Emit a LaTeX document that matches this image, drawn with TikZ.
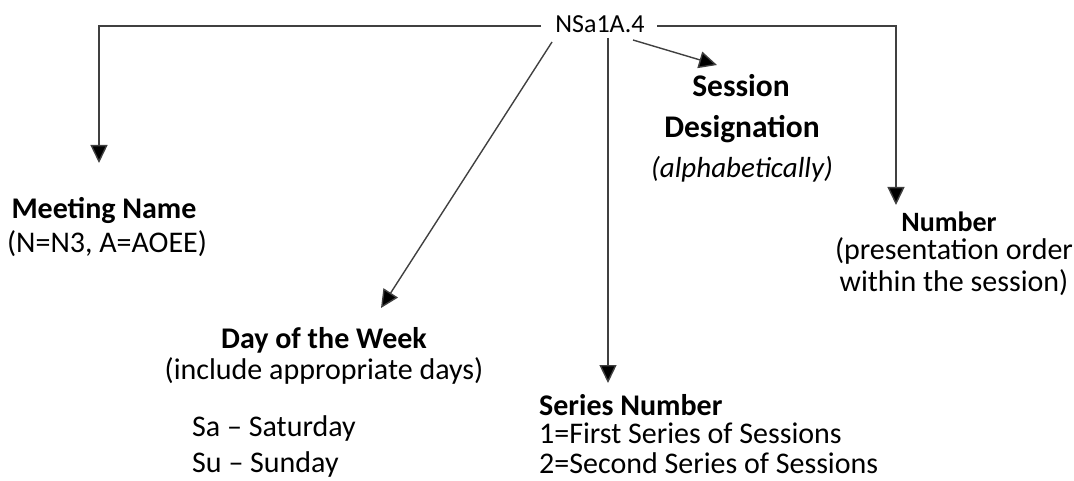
\documentclass[tikz,border=0pt]{standalone}
\usepackage{fontspec}
\setmainfont{Carlito}
\usetikzlibrary{arrows.meta}
\begin{document}
\begin{tikzpicture}[x=1pt,y=-1pt,
  conn/.style={draw=black!75, line width=1.4pt, -{Triangle[width=17pt,length=18pt,fill=black]}},
  lbl/.style={inner sep=0pt, font=\fontsize{30}{34}\selectfont\bfseries},
  big/.style={inner sep=0pt, font=\fontsize{31.5}{36}\selectfont\bfseries},
  txt/.style={inner sep=0pt, font=\fontsize{30}{34}\selectfont},
  itx/.style={inner sep=0pt, font=\fontsize{29}{34}\selectfont\itshape}]
\useasboundingbox (0,0) rectangle (1074,481);
% root
\node[inner sep=0pt, font=\fontsize{26}{30}\selectfont, anchor=base] (root) at (600,33) {NSa1A.4};
% connector start/bend coordinates
\coordinate (lstart) at (541,26);
\coordinate (lbend) at (99,26);
\coordinate (rstart) at (657,26);
\coordinate (rbend) at (896,26);
\coordinate (dstart) at (552,42);
\coordinate (vstart) at (608,38);
\coordinate (sstart) at (633,40);
% targets (arrow tips)
\coordinate (meettip) at (99,163);
\coordinate (daytip) at (381,308);
\coordinate (sertip) at (608,383);
\coordinate (sestip) at (717,65);
\coordinate (numtip) at (896,205);
% labels
\node[lbl, anchor=base] (meet) at (104,219) {Meeting Name};
\node[txt, anchor=base] (meetsub) at (107,253) {(N=N3, A=AOEE)};
\node[lbl, anchor=base] (day) at (324,348) {Day of the Week};
\node[txt, anchor=base] (daysub) at (324,379) {(include appropriate days)};
\node[txt, anchor=base west] (sa) at (192,436) {Sa – Saturday};
\node[txt, anchor=base west] (su) at (192,472) {Su – Sunday};
\node[lbl, anchor=base west] (ser) at (539,415) {Series Number};
\node[txt, anchor=base west] (ser1) at (539,443) {1=First Series of Sessions};
\node[txt, anchor=base west] (ser2) at (539,473) {2=Second Series of Sessions};
\node[big, anchor=base] (ses) at (741,97) {Session};
\node[big, anchor=base] (sesd) at (742,138) {Designation};
\node[itx, anchor=base] (sesa) at (742,178) {(alphabetically)};
\node[lbl, font=\fontsize{28}{32}\selectfont\bfseries, anchor=base] (num) at (949,232) {Number};
\node[txt, anchor=base] (num1) at (954,259) {(presentation order};
\node[txt, anchor=base] (num2) at (954,291) {within the session)};
% connectors
\draw[conn] (lstart) -- (lbend) -- (meettip);
\draw[conn] (rstart) -- (rbend) -- (numtip);
\draw[conn] (dstart) -- (daytip);
\draw[conn] (vstart) -- (sertip);
\draw[conn] (sstart) -- (sestip);
\end{tikzpicture}
\end{document}
